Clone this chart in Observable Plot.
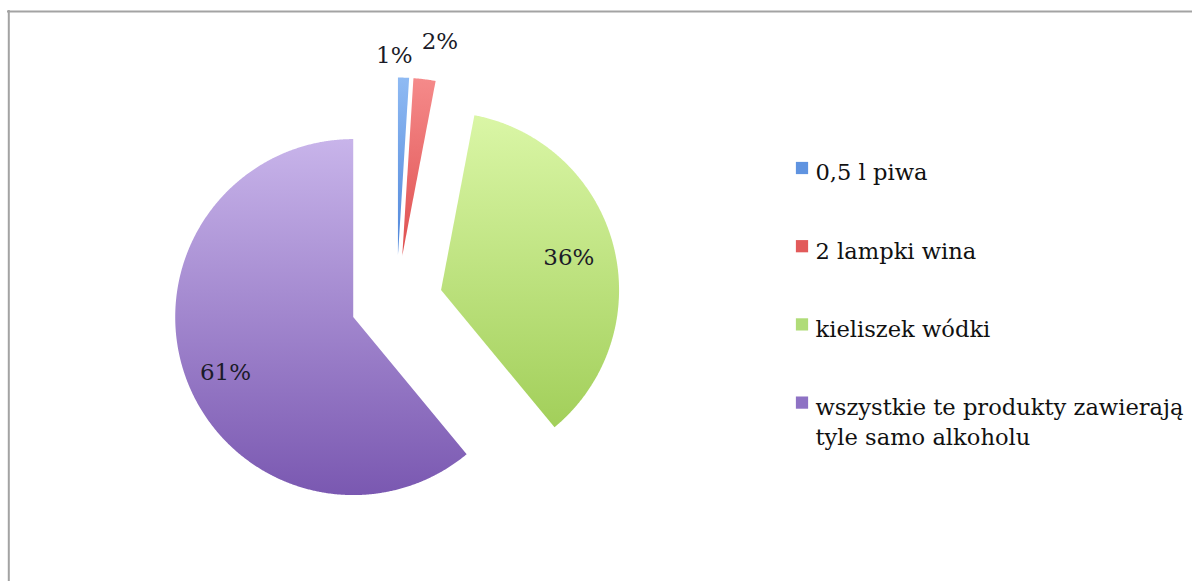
<!DOCTYPE html>
<html>
<head>
<meta charset="utf-8">
<script src="https://cdn.jsdelivr.net/npm/d3@7"></script>
<script src="https://cdn.jsdelivr.net/npm/@observablehq/plot@0.6"></script>
<style>
  html, body { margin: 0; padding: 0; background: #ffffff; }
  #chart svg { display: block; }
</style>
</head>
<body>
<div id="chart"></div>
<script>
// ---- data ----
const categories = [
  "0,5 l piwa",
  "2 lampki wina",
  "kieliszek wódki",
  "wszystkie te produkty zawierają tyle samo alkoholu"
];
const values = [1, 2, 36, 61];
const valueLabels = ["1%", "2%", "36%", "61%"];

// ---- styles ----
const gradientStops = [
  ["#8fbaf3", "#4f86da"],
  ["#f58a8a", "#df5050"],
  ["#daf6a6", "#a2cf5a"],
  ["#c8b4ea", "#7a58b1"]
];
const swatchColors = ["#5f93e0", "#e25a5a", "#b0dc78", "#8e72c4"];

// ---- layout (pixels) ----
const W = 1192, H = 581;
const CX = 396, CY = 301, R = 178;   // pie centre and radius
const EXPLODE = 46 / R;               // explosion of every slice, in radii
const labelLayout = [                 // label placement: degrees from slice middle, distance in radii
  {da: -2.3, r: 1.38},
  {da: 2.3, r: 1.48},
  {da: 0, r: 1.0},
  {da: -2.7, r: 1.04}
];
const px = (x) => (x - CX) / R;       // pixel -> unit coordinate
const py = (y) => (CY - y) / R;

// ---- geometry from the data ----
const arcs = d3.pie().sort(null).value(d => d).startAngle(0).endAngle(2 * Math.PI)(values);
const slices = arcs.map((a, i) => {
  const mid = (a.startAngle + a.endAngle) / 2;
  const ox = EXPLODE * Math.sin(mid), oy = EXPLODE * Math.cos(mid);
  const n = Math.max(4, Math.ceil((a.endAngle - a.startAngle) / 0.005));
  const pts = [{x: ox, y: oy}];
  for (let k = 0; k <= n; k++) {
    const t = a.startAngle + (a.endAngle - a.startAngle) * k / n;
    pts.push({x: ox + Math.sin(t), y: oy + Math.cos(t)});
  }
  pts.push({x: ox, y: oy});
  return pts;
});
const labelData = arcs.map((a, i) => {
  const mid = (a.startAngle + a.endAngle) / 2 + labelLayout[i].da * Math.PI / 180;
  return {x: labelLayout[i].r * Math.sin(mid), y: labelLayout[i].r * Math.cos(mid), text: valueLabels[i]};
});

const legendTop = 167.5, legendStep = 78.2, legendFont = 22.6;
const legendData = categories.map((c, i) => ({
  category: c,
  text: c.replace("zawierają ", "zawierają\n"),
  x: px(801.5),
  xt: px(815),
  y: py(legendTop + i * legendStep)
}));

const marks = [
  // chart frame (top and left edges)
  Plot.ruleY([py(11)], {x1: px(7), x2: px(W + 5), stroke: "#a3a3a3", strokeWidth: 2}),
  Plot.ruleX([px(8.3)], {y1: py(10), y2: py(H + 5), stroke: "#a3a3a3", strokeWidth: 2}),
  ...slices.map((pts, i) => Plot.line(pts, {x: "x", y: "y", fill: `url(#slice${i})`, stroke: "none", curve: "linear"})),
  Plot.text(labelData, {x: "x", y: "y", text: "text", fontSize: 23, fontFamily: "DejaVu Serif", fill: "#1b1b28"}),
  Plot.dot(legendData, {x: "x", y: "y", fill: "category", symbol: "square", r: 6.9, stroke: "none"}),
  Plot.text(legendData, {x: "xt", y: "y", text: "text", textAnchor: "start", lineAnchor: "top",
    dy: -0.39 * legendFont, lineHeight: 30 / legendFont, fontSize: legendFont, fontFamily: "DejaVu Serif", fill: "#111111"})
];

const svg = Plot.plot({
  width: W,
  height: H,
  margin: 0,
  style: {background: "#ffffff", overflow: "hidden"},
  x: {domain: [px(0), px(W)], axis: null},
  y: {domain: [py(H), py(0)], axis: null},
  color: {domain: categories, range: swatchColors},
  marks
});

const defs = d3.select(svg).insert("defs", ":first-child");
gradientStops.forEach(([a, b], i) => {
  const g = defs.append("linearGradient").attr("id", `slice${i}`)
    .attr("x1", 0).attr("y1", 0).attr("x2", 0).attr("y2", 1);
  g.append("stop").attr("offset", "0%").attr("stop-color", a);
  g.append("stop").attr("offset", "100%").attr("stop-color", b);
});

document.getElementById("chart").appendChild(svg);
</script>
</body>
</html>
